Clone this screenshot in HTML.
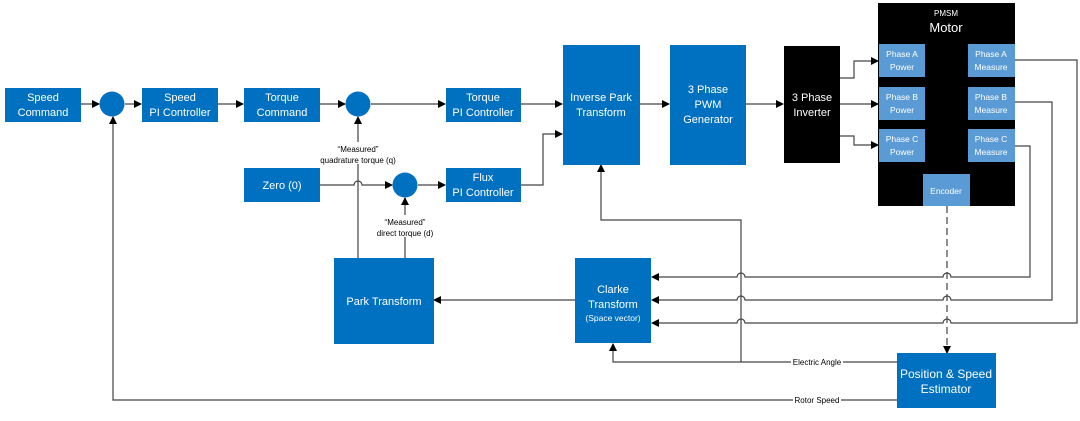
<!DOCTYPE html>
<html><head><meta charset="utf-8"><style>
body{margin:0;background:#fff}
svg text{font-family:"Liberation Sans",sans-serif;}
</style></head><body>
<svg width="1080" height="416" viewBox="0 0 1080 416" xmlns="http://www.w3.org/2000/svg">
<defs>
<marker id="a" markerWidth="8" markerHeight="8" refX="7" refY="4" orient="auto" markerUnits="userSpaceOnUse"><path d="M0,0 L8,4 L0,8 z" fill="#000"/></marker>
</defs>
<g fill="none" stroke="#444" stroke-width="1.2">
<path d="M81,104 H99" marker-end="url(#a)"/>
<path d="M125,104 H141" marker-end="url(#a)"/>
<path d="M218,104 H243" marker-end="url(#a)"/>
<path d="M320,104 H345" marker-end="url(#a)"/>
<path d="M371,104 H445" marker-end="url(#a)"/>
<path d="M521,104 H562" marker-end="url(#a)"/>
<path d="M320,185 H354 a4,4 0 0 1 8,0 H392" marker-end="url(#a)"/>
<path d="M418,185 H445" marker-end="url(#a)"/>
<path d="M521,185 H543 V134 H562" marker-end="url(#a)"/>
<path d="M640,104 H669" marker-end="url(#a)"/>
<path d="M746,104 H783" marker-end="url(#a)"/>
<path d="M840,78 H854 V61 H878" marker-end="url(#a)"/>
<path d="M840,104 H878" marker-end="url(#a)"/>
<path d="M840,136 H854 V145 H878" marker-end="url(#a)"/>
<path d="M358,258 V117" marker-end="url(#a)"/>
<path d="M405,258 V198" marker-end="url(#a)"/>
<path d="M575,300 H434" marker-end="url(#a)"/>
<path d="M1015,60 H1077 V323 H951 a4,4 0 0 0 -8,0 H745 a4,4 0 0 0 -8,0 H652" marker-end="url(#a)"/>
<path d="M1015,102 H1052 V300 H951 a4,4 0 0 0 -8,0 H745 a4,4 0 0 0 -8,0 H652" marker-end="url(#a)"/>
<path d="M1015,146 H1030 V277 H951 a4,4 0 0 0 -8,0 H745 a4,4 0 0 0 -8,0 H652" marker-end="url(#a)"/>
<path d="M897,362 H613 V344" marker-end="url(#a)"/>
<path d="M741,362 V220 H601 V165" marker-end="url(#a)"/>
<path d="M897,400 H113 V117" marker-end="url(#a)"/>
<path d="M947,206 V353" stroke-dasharray="7,4" marker-end="url(#a)"/>
</g>
<g fill="#0070C0">
<rect x="5" y="88" width="76" height="34"/>
<rect x="142" y="88" width="76" height="34"/>
<rect x="244" y="88" width="76" height="34"/>
<rect x="446" y="88" width="75" height="34"/>
<rect x="244" y="168" width="76" height="34"/>
<rect x="446" y="168" width="75" height="34"/>
<rect x="563" y="45" width="77" height="120"/>
<rect x="670" y="45" width="76" height="120"/>
<rect x="334" y="258" width="100" height="86"/>
<rect x="575" y="258" width="76" height="85"/>
<rect x="897" y="353" width="99" height="55"/>
<circle cx="112" cy="104" r="12.5"/>
<circle cx="358" cy="104" r="12.5"/>
<circle cx="405" cy="185" r="12.5"/>
</g>
<rect x="784" y="46" width="56" height="117" fill="#000"/>
<rect x="878" y="3" width="137" height="203" fill="#000"/>
<g fill="#5B9BD5">
<rect x="879" y="44" width="46" height="33"/><rect x="879" y="87" width="46" height="33"/><rect x="879" y="129" width="46" height="33"/>
<rect x="968" y="44" width="47" height="33"/><rect x="968" y="87" width="47" height="33"/><rect x="968" y="129" width="47" height="33"/>
<rect x="923" y="174" width="47" height="32"/>
</g>
<g fill="#fff" font-size="11" text-anchor="middle">
<text x="43" y="101">Speed</text><text x="43" y="116">Command</text>
<text x="180" y="101">Speed</text><text x="180" y="116">PI Controller</text>
<text x="282" y="101">Torque</text><text x="282" y="116">Command</text>
<text x="483" y="101">Torque</text><text x="483" y="116">PI Controller</text>
<text x="282" y="189">Zero (0)</text>
<text x="483" y="181">Flux</text><text x="483" y="196">PI Controller</text>
<text x="601" y="101">Inverse Park</text><text x="601" y="116">Transform</text>
<text x="708" y="93">3 Phase</text><text x="708" y="108">PWM</text><text x="708" y="123">Generator</text>
<text x="812" y="101">3 Phase</text><text x="812" y="116">Inverter</text>
<text x="384" y="305">Park Transform</text>
<text x="613" y="293">Clarke</text><text x="613" y="308">Transform</text>
<text x="613" y="321" font-size="8.5">(Space vector)</text>
<text x="946" y="378" font-size="12">Position &amp; Speed</text><text x="946" y="393" font-size="12">Estimator</text>
<text x="946" y="16" font-size="8">PMSM</text><text x="946" y="32" font-size="13">Motor</text>
<g font-size="8.5">
<text x="902" y="57">Phase A</text><text x="902" y="70">Power</text>
<text x="902" y="100">Phase B</text><text x="902" y="113">Power</text>
<text x="902" y="142">Phase C</text><text x="902" y="155">Power</text>
<text x="991" y="57">Phase A</text><text x="991" y="70">Measure</text>
<text x="991" y="100">Phase B</text><text x="991" y="113">Measure</text>
<text x="991" y="142">Phase C</text><text x="991" y="155">Measure</text>
<text x="946" y="194">Encoder</text>
</g>
</g>
<g fill="#000" font-size="8" text-anchor="middle">
<rect x="310" y="142" width="96" height="22" fill="#fff"/>
<text x="358" y="152">“Measured”</text><text x="358" y="163">quadrature torque (q)</text>
<rect x="370" y="215" width="70" height="22" fill="#fff"/>
<text x="405" y="225">“Measured”</text><text x="405" y="236">direct torque (d)</text>
<rect x="791" y="357" width="52" height="10" fill="#fff"/>
<text x="817" y="365">Electric Angle</text>
<rect x="793" y="395" width="48" height="10" fill="#fff"/>
<text x="817" y="403">Rotor Speed</text>
</g>
</svg>
</body></html>
